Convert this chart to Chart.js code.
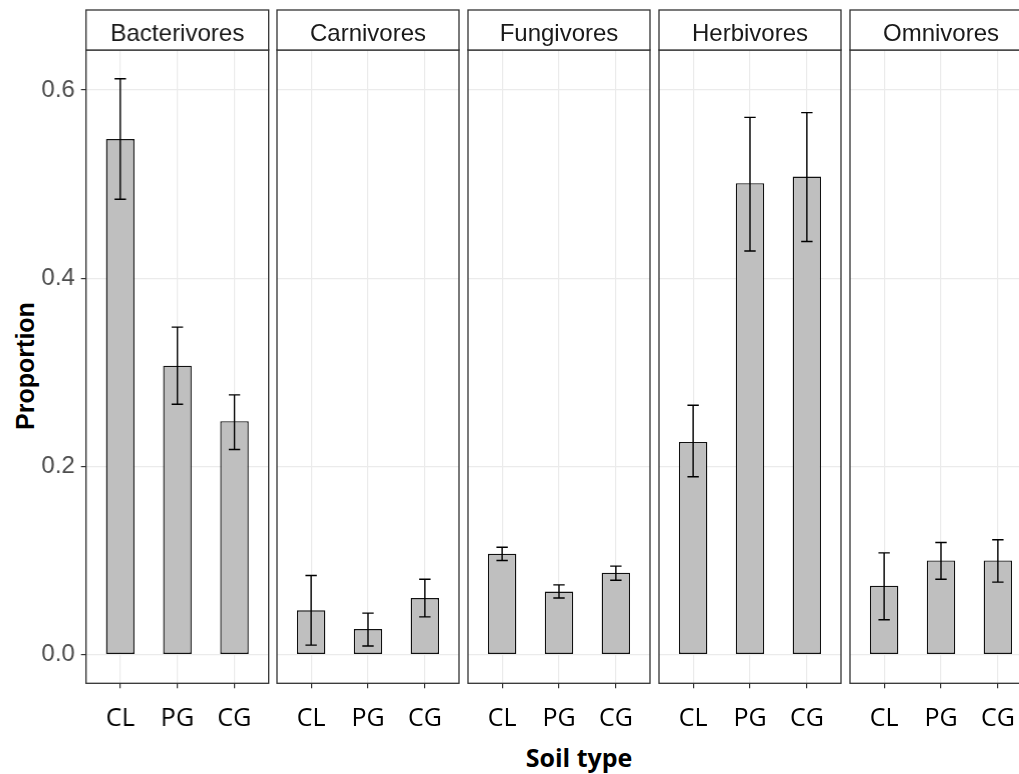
<!DOCTYPE html>
<html><head><meta charset="utf-8">
<script src="https://cdn.jsdelivr.net/npm/chart.js@4.4.1/dist/chart.umd.min.js"></script>
<style>
html,body{margin:0;padding:0;background:#fff;overflow:hidden;width:1019px;height:774px;position:relative;}
.panel{position:absolute;top:0;height:774px;}
#ytitle{position:absolute;left:25px;top:366px;transform:translate(-50%,-50%) rotate(-90deg);font:bold 25px "Liberation Sans",Arial,sans-serif;color:#000;white-space:nowrap;}
#xtitle{position:absolute;left:579px;top:757px;transform:translate(-50%,-50%);font:bold 25px "Open Sans",sans-serif;color:#000;white-space:nowrap;}
</style></head><body>
<div id="ytitle">Proportion</div>
<div id="xtitle">Soil type</div>
<script>
// ---- data ----
const groups = ['Bacterivores','Carnivores','Fungivores','Herbivores','Omnivores'];
const soilTypes = ['CL','PG','CG'];
const yTicks = [0, 0.2, 0.4, 0.6];

const bacterivoresMean = [0.548, 0.307, 0.248];
const bacterivoresLow  = [0.484, 0.266, 0.218];
const bacterivoresHigh = [0.612, 0.348, 0.276];

const carnivoresMean = [0.047, 0.027, 0.060];
const carnivoresLow  = [0.010, 0.009, 0.040];
const carnivoresHigh = [0.084, 0.044, 0.080];

const fungivoresMean = [0.107, 0.067, 0.087];
const fungivoresLow  = [0.100, 0.060, 0.079];
const fungivoresHigh = [0.114, 0.074, 0.094];

const herbivoresMean = [0.226, 0.501, 0.508];
const herbivoresLow  = [0.189, 0.429, 0.439];
const herbivoresHigh = [0.265, 0.571, 0.576];

const omnivoresMean = [0.073, 0.100, 0.100];
const omnivoresLow  = [0.037, 0.080, 0.077];
const omnivoresHigh = [0.108, 0.119, 0.122];

const means = [bacterivoresMean, carnivoresMean, fungivoresMean, herbivoresMean, omnivoresMean];
const lows  = [bacterivoresLow, carnivoresLow, fungivoresLow, herbivoresLow, omnivoresLow];
const highs = [bacterivoresHigh, carnivoresHigh, fungivoresHigh, herbivoresHigh, omnivoresHigh];

// ---- layout ----
const PANEL_LEFT0 = 85.7, PANEL_PITCH = 191.15, PANEL_W = 182;
const STRIP_TOP = 10, STRIP_H = 40, PLOT_BOTTOM = 683.3, PAGE_H = 774;
const yHighest = Math.max(...highs.flat());
const yPad = 0.05 * yHighest;
const Y_MIN = -yPad, Y_MAX = yHighest + yPad;
const X_MIN = 0.4, X_MAX = soilTypes.length + 0.6;

const panelPlugin = {
  id: 'panelDecor',
  afterDatasetsDraw(chart) {
    const {ctx, scales: {x, y}} = chart;
    const ds = chart.data.datasets[0];
    ctx.save();
    ctx.strokeStyle = '#000';
    ctx.lineWidth = 1.4;
    ds.low.forEach((lo, i) => {
      const cx = x.getPixelForValue(i + 1);
      const half = x.getPixelForValue(i + 1 + 0.1) - cx;
      const yl = y.getPixelForValue(lo), yh = y.getPixelForValue(ds.high[i]);
      ctx.beginPath();
      ctx.moveTo(cx, yl); ctx.lineTo(cx, yh);
      ctx.moveTo(cx - half, yl); ctx.lineTo(cx + half, yl);
      ctx.moveTo(cx - half, yh); ctx.lineTo(cx + half, yh);
      ctx.stroke();
    });
    ctx.restore();
  },
  afterDraw(chart) {
    const {ctx, chartArea: a} = chart;
    ctx.save();
    ctx.strokeStyle = '#333333';
    ctx.lineWidth = 1.3;
    ctx.strokeRect(a.left, a.top, a.right - a.left, a.bottom - a.top);
    const st = a.top - STRIP_H;
    ctx.fillStyle = '#fff';
    ctx.fillRect(a.left, st, a.right - a.left, STRIP_H);
    ctx.strokeRect(a.left, st, a.right - a.left, STRIP_H);
    ctx.fillStyle = '#1A1A1A';
    ctx.font = '24px "Liberation Sans", Arial, sans-serif';
    ctx.textAlign = 'center';
    ctx.textBaseline = 'alphabetic';
    ctx.fillText(chart.options.plugins.panelDecor.label, (a.left + a.right) / 2, st + 30.7);
    ctx.restore();
  }
};

groups.forEach((g, gi) => {
  const padL = gi === 0 ? PANEL_LEFT0 : 8;
  const padR = 8;
  const left = PANEL_LEFT0 + gi * PANEL_PITCH - padL;
  const div = document.createElement('div');
  div.className = 'panel';
  div.style.left = left + 'px';
  div.style.width = (padL + PANEL_W + padR) + 'px';
  const cv = document.createElement('canvas');
  div.appendChild(cv);
  document.body.appendChild(div);

  new Chart(cv, {
    type: 'bar',
    data: {
      datasets: [{
        data: means[gi].map((v, i) => ({x: i + 1, y: v})),
        low: lows[gi], high: highs[gi],
        backgroundColor: '#BFBFBF',
        borderColor: '#111111',
        borderWidth: 1.4,
        borderSkipped: false,
        barPercentage: 0.5,
        categoryPercentage: 1
      }]
    },
    options: {
      responsive: true, maintainAspectRatio: false, animation: false,
      devicePixelRatio: 1,
      layout: {padding: {left: 0, right: padR, top: STRIP_TOP + STRIP_H, bottom: 0}},
      plugins: {legend: {display: false}, tooltip: {enabled: false}, panelDecor: {label: g}},
      scales: {
        x: {
          type: 'linear', min: X_MIN, max: X_MAX, offset: false,
          afterBuildTicks: a => { a.ticks = soilTypes.map((_, i) => ({value: i + 1})); },
          afterFit: a => { a.height = PAGE_H - PLOT_BOTTOM; },
          ticks: {callback: v => soilTypes[v - 1], color: '#000', font: {family: 'Open Sans', size: 25}, padding: 16, maxRotation: 0, autoSkip: false},
          grid: {offset: false, color: '#EBEBEB', lineWidth: 1.2, tickColor: '#333333', tickLength: 5, drawTicks: true},
          border: {display: false}
        },
        y: {
          min: Y_MIN, max: Y_MAX,
          afterBuildTicks: a => { a.ticks = yTicks.map(v => ({value: v})); },
          afterFit: a => { a.width = padL; },
          ticks: {display: gi === 0, callback: v => v.toFixed(1), color: '#4D4D4D', font: {family: 'Liberation Sans', size: 24}, padding: 6},
          grid: {color: '#EBEBEB', lineWidth: 1.2, tickColor: '#333333', tickLength: 5, drawTicks: gi === 0},
          border: {display: false}
        }
      }
    },
    plugins: [panelPlugin]
  });
});
</script>
</body></html>
